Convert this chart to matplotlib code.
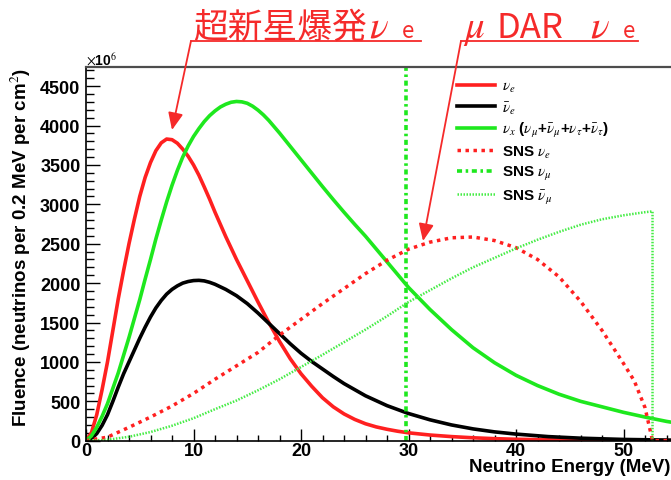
"""
超新星ニュートリノ と SNS (muon decay-at-rest) ニュートリノのエネルギースペクトル比較.
ROOT 風の見た目を matplotlib で再現する.
"""

import matplotlib
matplotlib.use("Agg")
import matplotlib.pyplot as plt
from matplotlib.lines import Line2D
from matplotlib.ticker import MultipleLocator

W, H = 671, 481
DPI = 100

# ---- データ (Fluence, x10^6 neutrinos per 0.2 MeV per cm^2) ----
sn_nue_E = [0, 0.5, 1, 1.5, 2, 2.5, 3, 3.5, 4, 4.5, 5, 5.5, 6, 6.5, 7, 7.5,
            8, 8.5, 9, 9.5, 10, 10.5, 11, 11.5, 12, 13, 14, 15, 16, 17, 18,
            19, 20, 21, 22, 23, 24, 25, 26, 27, 28, 29, 30, 32, 34, 36, 38,
            40, 45, 50, 60]
sn_nue_F = [0, 100, 330, 650, 1000, 1400, 1800, 2160, 2500, 2810, 3100, 3340,
            3530, 3680, 3780, 3828, 3820, 3775, 3700, 3610, 3500, 3370, 3220,
            3065, 2900, 2590, 2300, 2030, 1760, 1500, 1260, 1040, 850, 690,
            545, 430, 340, 270, 215, 175, 145, 120, 100, 72, 52, 37, 26, 18,
            7, 3, 0]

sn_nuebar_E = [0, 0.5, 1, 1.5, 2, 2.5, 3, 3.5, 4, 4.5, 5, 5.5, 6, 6.5, 7, 7.5,
               8, 8.5, 9, 9.5, 10, 10.5, 11, 11.5, 12, 13, 14, 15, 16, 17, 18,
               19, 20, 21, 22, 23, 24, 26, 28, 30, 32, 34, 36, 38, 40, 43, 46,
               50, 55, 60]
sn_nuebar_F = [0, 25, 90, 195, 330, 500, 680, 850, 1000, 1150, 1300, 1440,
               1570, 1685, 1780, 1860, 1920, 1965, 2000, 2020, 2032, 2035,
               2028, 2010, 1985, 1920, 1840, 1740, 1620, 1490, 1360, 1230,
               1110, 1005, 910, 815, 725, 570, 445, 345, 265, 200, 150, 112,
               84, 52, 32, 16, 6, 2]

sn_nux_E = [0, 0.5, 1, 1.5, 2, 3, 4, 5, 5.5, 6, 6.5, 7, 7.5, 8, 8.5, 9, 9.5,
            10, 10.5, 11, 11.5, 12, 12.5, 13, 13.5, 14, 14.5, 15, 15.5, 16,
            16.5, 17, 18, 19, 20, 21, 22, 23, 24, 25, 26, 28, 30, 32, 34, 36,
            38, 40, 42, 44, 46, 48, 50, 52, 54, 56, 60]
sn_nux_F = [0, 60, 170, 310, 470, 860, 1310, 1790, 2050, 2300, 2560, 2800,
            3030, 3240, 3430, 3600, 3740, 3860, 3960, 4050, 4125, 4185, 4235,
            4270, 4295, 4305, 4300, 4282, 4245, 4195, 4135, 4065, 3905, 3735,
            3565, 3395, 3225, 3060, 2900, 2745, 2595, 2270, 1945, 1665, 1410,
            1180, 990, 830, 700, 590, 500, 430, 360, 300, 245, 200, 140]

sns_nue_E = [0, 2, 4, 6, 8, 10, 12, 14, 16, 18, 20, 22, 24, 26, 28, 30, 32,
             34, 36, 38, 40, 42, 44, 46, 48, 50, 51, 52, 52.7, 60]
sns_nue_F = [0, 45, 170, 300, 440, 600, 780, 950, 1120, 1340, 1540, 1740,
             1930, 2120, 2290, 2430, 2520, 2575, 2585, 2540, 2450, 2300, 2080,
             1770, 1400, 980, 760, 420, 0, 0]

sns_numu_E = [29.8, 29.8]
sns_numu_F = [0, 6000]

sns_numubar_E = [0, 2, 4, 6, 8, 10, 12, 14, 16, 18, 20, 22, 24, 26, 28, 30,
                 32, 34, 36, 38, 40, 42, 44, 46, 48, 50, 52, 52.7, 52.7]
sns_numubar_F = [0, 12, 50, 110, 190, 285, 400, 510, 640, 780, 935, 1090,
                 1250, 1410, 1580, 1760, 1910, 2060, 2200, 2320, 2440, 2550,
                 2650, 2740, 2810, 2860, 2900, 2910, 0]

RED = "#ff2020"
GREEN = "#1ee81e"
LGREEN = "#45ec45"
ANN_RED = "#f52a2a"

plt.rcParams["font.family"] = ["Liberation Sans", "DejaVu Sans"]
plt.rcParams["mathtext.fontset"] = "stix"


def fx(x):
    return x / W


def fy(y):
    return 1 - y / H


def main():
    fig = plt.figure(figsize=(W / DPI, H / DPI), dpi=DPI)
    # 元画像は右端で切れているので, 軸は図の右端まで
    ax_w = W - 86
    ax = fig.add_axes([fx(86), fy(441.7), ax_w / W, (441.7 - 68) / H])

    ax.plot(sn_nue_E, sn_nue_F, color=RED, lw=2.6, label=r"$\nu_e$")
    ax.plot(sn_nuebar_E, sn_nuebar_F, color="black", lw=2.6,
            label=r"$\bar{\nu}_e$")
    ax.plot(sn_nux_E, sn_nux_F, color=GREEN, lw=2.6,
            label=r"$\nu_x$ ($\nu_\mu$+$\bar{\nu}_\mu$+$\nu_\tau$+$\bar{\nu}_\tau$)")
    ax.plot(sns_nue_E, sns_nue_F, color=RED, lw=2.5, ls=(0, (1, 1.3)),
            dash_capstyle="butt", label=r"SNS $\nu_e$")
    ax.plot(sns_numu_E, sns_numu_F, color=GREEN, lw=2.6,
            ls=(0, (1.4, 1, 0.7, 1)), dash_capstyle="butt",
            label=r"SNS $\nu_\mu$")
    ax.plot(sns_numubar_E, sns_numubar_F, color=LGREEN, lw=1.8,
            ls=(0, (0.6, 0.6)), dash_capstyle="butt",
            label=r"SNS $\bar{\nu}_\mu$")

    ax.set_xlim(0, ax_w / 10.75)
    ax.set_ylim(0, (441.7 - 68) / 0.0788)

    ax.xaxis.set_major_locator(MultipleLocator(10))
    ax.xaxis.set_minor_locator(MultipleLocator(2))
    ax.yaxis.set_major_locator(MultipleLocator(500))
    ax.yaxis.set_minor_locator(MultipleLocator(100))
    ax.tick_params(axis="both", which="both", direction="in",
                   top=False, right=False, width=1.0, labelsize=13)
    ax.tick_params(axis="x", which="major", length=9, pad=1)
    ax.tick_params(axis="x", which="minor", length=4.5)
    ax.tick_params(axis="y", which="major", length=10, pad=4)
    ax.tick_params(axis="y", which="minor", length=5.5)
    for lab in ax.get_xticklabels() + ax.get_yticklabels():
        lab.set_fontweight("bold")

    for side in ("left", "bottom"):
        ax.spines[side].set_linewidth(1.2)
    ax.spines["top"].set_color("#4d4d4d")
    ax.spines["top"].set_linewidth(1.6)
    ax.spines["right"].set_visible(False)

    ax.set_xlabel("Neutrino Energy (MeV)", fontsize=13.5, fontweight="bold",
                  ha="right")
    ax.xaxis.set_label_coords((670 - 86) / ax_w, -0.045)
    ax.set_ylabel("Fluence (neutrinos per 0.2 MeV per cm$^2$)", fontsize=13.5,
                  fontweight="bold", ha="right")
    ax.yaxis.set_label_coords((33 - 86) / ax_w, 1.0)

    fig.text(fx(86), fy(66), r"$\times$10$^{6}$", fontsize=10,
             fontweight="bold", va="baseline", ha="left")

    leg = ax.legend(loc="upper left", bbox_to_anchor=(fx(457), fy(80)),
                    bbox_transform=fig.transFigure, frameon=False,
                    fontsize=11, handlelength=2.5, handletextpad=0.45,
                    labelspacing=0.3, borderpad=0, borderaxespad=0)
    for t in leg.get_texts():
        t.set_fontweight("bold")

    # ---- 注釈 ----
    jp = ["Noto Sans CJK JP", "DejaVu Sans"]
    base = 37.5
    fig.text(fx(193), fy(base), "超新星爆発", family=jp, fontsize=25,
             color=ANN_RED, va="baseline")
    fig.text(fx(369), fy(base), r"$\nu$", fontsize=28, color=ANN_RED,
             va="baseline")
    fig.text(fx(402), fy(base), "e", family=jp, fontsize=16,
             color=ANN_RED, va="baseline")

    fig.text(fx(463), fy(base), r"$\mu$", fontsize=28, color=ANN_RED,
             va="baseline")
    fig.text(fx(496), fy(base), "DAR", family=jp, fontsize=25,
             color=ANN_RED, va="baseline")
    fig.text(fx(590), fy(base), r"$\nu$", fontsize=28, color=ANN_RED,
             va="baseline")
    fig.text(fx(623), fy(base), "e", family=jp, fontsize=16,
             color=ANN_RED, va="baseline")

    for x0, x1 in ((191, 421), (461, 638)):
        fig.add_artist(Line2D([fx(x0), fx(x1)], [fy(42), fy(42)],
                              transform=fig.transFigure, color=ANN_RED,
                              lw=1.3))

    arrow = dict(arrowstyle="-|>,head_length=0.8,head_width=0.35",
                 color=ANN_RED, lw=1.3, shrinkA=0, shrinkB=0,
                 mutation_scale=13)
    for start, tip in (((191, 42), (172, 131)), ((461, 42), (423, 242))):
        ax.annotate("", xy=(tip[0], H - tip[1]), xycoords="figure pixels",
                    xytext=(start[0], H - start[1]),
                    textcoords="figure pixels", arrowprops=arrow,
                    annotation_clip=False)

    fig.savefig("out.png", dpi=DPI)
    plt.close(fig)


if __name__ == "__main__":
    main()
